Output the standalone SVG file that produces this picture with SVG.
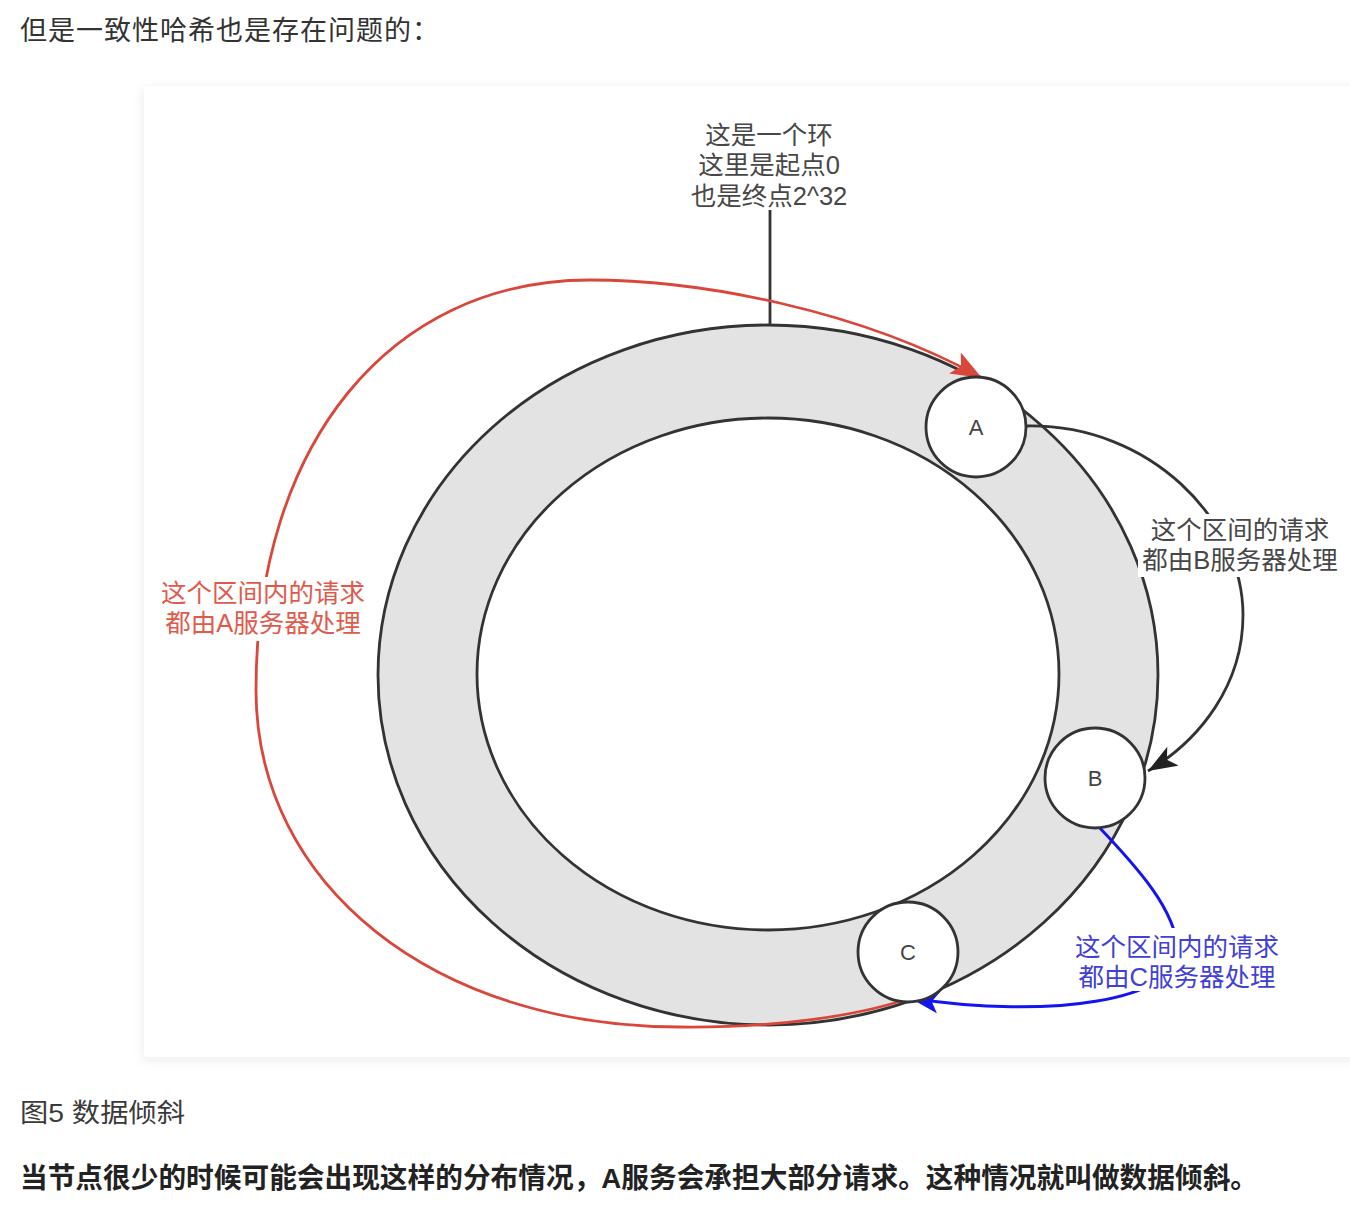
<svg xmlns="http://www.w3.org/2000/svg" width="1350" height="1220" viewBox="0 0 1350 1220">
  <defs>
    <filter id="shadow" x="-5%" y="-5%" width="110%" height="110%">
      <feDropShadow dx="0" dy="3" stdDeviation="6" flood-color="#1f2d3d" flood-opacity="0.09"/>
    </filter>
    <marker id="arrRed" markerUnits="userSpaceOnUse" markerWidth="34" markerHeight="26" refX="31" refY="12" orient="auto">
      <path d="M0,0 L31,12 L0,24 L7,12 z" fill="#d9473a"/>
    </marker>
    <marker id="arrBlack" markerUnits="userSpaceOnUse" markerWidth="34" markerHeight="26" refX="29" refY="11" orient="auto">
      <path d="M0,0 L29,11 L0,22 L7,11 z" fill="#222"/>
    </marker>
    <marker id="arrBlue" markerUnits="userSpaceOnUse" markerWidth="34" markerHeight="26" refX="29" refY="11" orient="auto">
      <path d="M0,0 L29,11 L0,22 L7,11 z" fill="#1414f0"/>
    </marker>
  </defs>
  <style>
    .page { font-family: "Liberation Sans", "Noto Sans CJK SC", sans-serif; }
    .dg { font-family: "Liberation Sans", "Noto Sans CJK SC", sans-serif; font-size: 25.5px; text-anchor: middle; }
    .gray { fill: #474747; }
    .red { fill: #e05a4c; }
    .blue { fill: #4040d8; }
    .node { fill: #ffffff; stroke: #333; stroke-width: 2.8; }
    .nlabel { font-family: "Liberation Sans", "Noto Sans CJK SC", sans-serif; font-size: 22px; fill: #444; text-anchor: middle; }
    .lbg { fill: #ffffff; }
  </style>

  <rect x="0" y="0" width="1350" height="1220" fill="#ffffff"/>

  <text class="page" x="20" y="40" font-size="27" letter-spacing="1" fill="#333">但是一致性哈希也是存在问题的：</text>

  <rect x="144" y="86" width="1240" height="971" rx="4" fill="#ffffff" filter="url(#shadow)"/>

  <g id="ring">
    <ellipse cx="768" cy="675" rx="390" ry="350" fill="#e3e3e3" stroke="#333" stroke-width="2.8"/>
    <ellipse cx="768" cy="674" rx="291" ry="256" fill="#ffffff" stroke="#333" stroke-width="2.8"/>
  </g>

  <g id="connectors" fill="none">
    <line x1="770" y1="210" x2="770" y2="326" stroke="#333" stroke-width="2.8"/>
    <path d="M907 999 C 860 1015, 780 1028, 680 1027 C 434 1027, 256 885, 256 690 C 256 444, 390 280, 590 280 C 700 280, 860 310, 982 378" stroke="#d9473a" stroke-width="2.8" marker-end="url(#arrRed)"/>
    <path d="M1027 426 C 1150 424, 1243 520, 1243 615 C 1243 685, 1200 740, 1148 771" stroke="#333" stroke-width="2.8" marker-end="url(#arrBlack)"/>
    <path d="M1097 825 C 1140 870, 1175 910, 1178 950 C 1180 1000, 1050 1020, 910 998" stroke="#1414f0" stroke-width="3" marker-end="url(#arrBlue)"/>
  </g>

  <g id="node-A">
    <circle class="node" cx="976" cy="427" r="50"/>
    <text class="nlabel" x="976" y="435">A</text>
  </g>
  <g id="node-B">
    <circle class="node" cx="1095" cy="778" r="50"/>
    <text class="nlabel" x="1095" y="786">B</text>
  </g>
  <g id="node-C">
    <circle class="node" cx="908" cy="952" r="50"/>
    <text class="nlabel" x="908" y="960">C</text>
  </g>

  <g id="label-ring">
    <text class="dg gray" x="769" y="144">这是一个环</text>
    <text class="dg gray" x="769" y="174">这里是起点0</text>
    <text class="dg gray" x="769" y="205">也是终点2^32</text>
  </g>

  <g id="label-A">
    <rect class="lbg" x="160" y="577" width="208" height="64"/>
    <text class="dg red" x="263" y="602">这个区间内的请求</text>
    <text class="dg red" x="263" y="632">都由A服务器处理</text>
  </g>

  <g id="label-B">
    <rect class="lbg" x="1138" y="514" width="204" height="63"/>
    <text class="dg gray" x="1240" y="539">这个区间的请求</text>
    <text class="dg gray" x="1240" y="569">都由B服务器处理</text>
  </g>

  <g id="label-C">
    <rect class="lbg" x="1070" y="928" width="214" height="63"/>
    <text class="dg blue" x="1177" y="956">这个区间内的请求</text>
    <text class="dg blue" x="1177" y="986">都由C服务器处理</text>
  </g>

  <text class="page" x="20" y="1122" font-size="26" fill="#3a3a3a" textLength="165" lengthAdjust="spacingAndGlyphs">图5 数据倾斜</text>
  <text class="page" x="20" y="1188" font-size="28" font-weight="bold" fill="#222" textLength="1238" lengthAdjust="spacingAndGlyphs">当节点很少的时候可能会出现这样的分布情况，A服务会承担大部分请求。这种情况就叫做数据倾斜。</text>
</svg>
